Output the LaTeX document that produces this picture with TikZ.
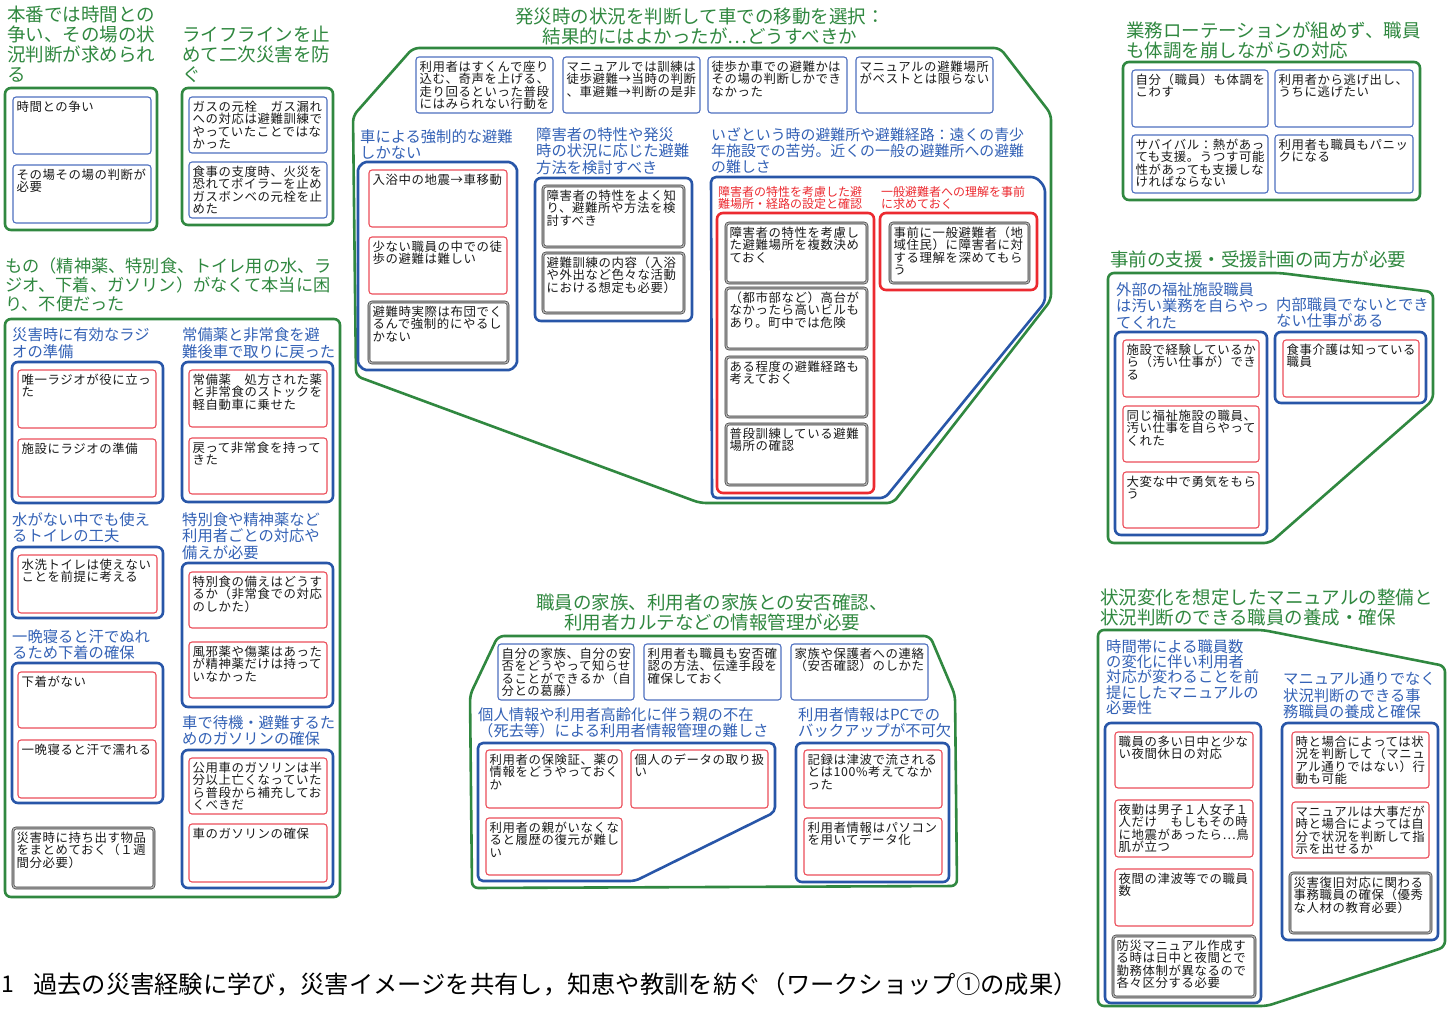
\documentclass[tikz,border=0pt]{standalone}
\usepackage{fontspec}
\setmainfont{Noto Sans CJK JP}
\newfontfamily\bfont[LetterSpace=5]{Noto Sans CJK JP}
\newfontfamily\hfont{Noto Sans CJK JP}
\definecolor{grn}{RGB}{48,136,64}
\definecolor{hbl}{RGB}{52,98,182}
\definecolor{bbl}{RGB}{40,86,168}
\definecolor{tbl}{RGB}{78,112,192}
\definecolor{rd}{RGB}{236,42,48}
\definecolor{trd}{RGB}{236,78,90}
\tikzset{
  bxbase/.style={rectangle, inner sep=0pt, outer sep=0pt},
  tbx/.style={bxbase, draw=tbl, line width=1.1pt, rounded corners=3pt},
  trx/.style={bxbase, draw=trd, line width=1.1pt, rounded corners=3pt},
  dbx/.style={bxbase, draw=black!80, line width=0.6pt, double=gray!60, double distance=1.4pt, rounded corners=3pt},
  bbx/.style={bxbase, draw=bbl, line width=2.6pt, rounded corners=6pt},
  rbx/.style={bxbase, draw=rd, line width=2.6pt, rounded corners=6pt},
  gbx/.style={bxbase, draw=grn, line width=2.6pt, rounded corners=6pt},
  gline/.style={draw=grn, line width=2.6pt, rounded corners=6pt, line join=round},
  bline/.style={draw=bbl, line width=2.6pt, rounded corners=5pt, line join=round},
  bt/.style={inner sep=0pt, outer sep=0pt, align=left, font=\bfont\fontsize{12.4}{12.3}\selectfont, text=black!90},
  gh/.style={inner sep=0pt, anchor=north west, align=left, font=\hfont\fontsize{18.5}{20}\selectfont, text=grn},
  gt/.style={inner sep=0pt, anchor=north, align=center, font=\hfont\fontsize{18.5}{19.5}\selectfont, text=grn},
  bh/.style={inner sep=0pt, anchor=north west, align=left, font=\hfont\fontsize{15.3}{16.5}\selectfont, text=hbl},
  rh/.style={inner sep=0pt, anchor=north west, align=left, font=\hfont\fontsize{12}{12.5}\selectfont, text=rd},
}
\newcommand\cbox[6]{\node[#1,anchor=north west,minimum width={#5-#3},minimum height={#6-#4}] (#2) at (#3,#4) {};}
\newcommand\bx[7]{\cbox{#1}{#2}{#3}{#4}{#5}{#6}\node[bt,anchor=north west] (#2t) at ([xshift=3.5pt,yshift=-4pt]#2.north west) {#7};}
\begin{document}
\begin{tikzpicture}[x=1pt,y=-1pt]
\fill[white] (0,0) rectangle (1448,1009);
\useasboundingbox (0,0) rectangle (1448,1009);

% ---------- group 1
\node[gh] (h1) at (7,6) {本番では時間との\\争い、その場の状\\況判断が求められ\\る};
\cbox{gbx}{g1}{5}{88}{157}{230}
\bx{tbx}{b11}{13}{97}{151}{154}{時間との争い}
\bx{tbx}{b12}{13}{165}{151}{223}{その場その場の判断が\\必要}

% ---------- group 2
\node[gh] (h2) at (182,26) {ライフラインを止\\めて二次災害を防\\ぐ};
\cbox{gbx}{g2}{182}{88}{333}{225}
\bx{tbx}{b21}{189}{97}{327}{153}{ガスの元栓　ガス漏れ\\への対応は避難訓練で\\やっていたことではな\\かった}
\bx{tbx}{b22}{189}{162}{327}{218}{食事の支度時、火災を\\恐れてボイラーを止め\\ガスボンベの元栓を止\\めた}

% ---------- group 3
\node[gh,font=\hfont\fontsize{17.2}{19}\selectfont] (h3) at (5,258) {もの（精神薬、特別食、トイレ用の水、ラ\\ジオ、下着、ガソリン）がなくて本当に困\\り、不便だった};
\cbox{gbx}{g3}{5}{319}{340}{897}
\node[bh] (h31) at (12,327.5) {災害時に有効なラジ\\オの準備};
\cbox{bbx}{c31}{12}{362}{163}{503}
\bx{trx}{b311}{18}{370}{156}{428}{唯一ラジオが役に立っ\\た}
\bx{trx}{b312}{18}{439}{156}{497}{施設にラジオの準備}
\node[bh] (h32) at (182,327.5) {常備薬と非常食を避\\難後車で取りに戻った};
\cbox{bbx}{c32}{182}{362}{333}{502}
\bx{trx}{b321}{189}{370}{327}{427}{常備薬　処方された薬\\と非常食のストックを\\軽自動車に乗せた}
\bx{trx}{b322}{189}{438}{327}{494}{戻って非常食を持って\\きた}
\node[bh] (h33) at (12,512) {水がない中でも使え\\るトイレの工夫};
\cbox{bbx}{c33}{12}{547}{163}{618}
\bx{trx}{b331}{18}{555}{157}{613}{水洗トイレは使えない\\ことを前提に考える}
\node[bh] (h34) at (12,629) {一晩寝ると汗でぬれ\\るため下着の確保};
\cbox{bbx}{c34}{12}{663}{163}{803}
\bx{trx}{b341}{18}{672}{156}{728}{下着がない}
\bx{trx}{b342}{18}{740}{156}{798}{一晩寝ると汗で濡れる}
\bx{dbx}{b35}{13}{828}{154}{888}{災害時に持ち出す物品\\をまとめておく（１週\\間分必要）}
\node[bh] (h36) at (182,512) {特別食や精神薬など\\利用者ごとの対応や\\備えが必要};
\cbox{bbx}{c36}{182}{563}{333}{707}
\bx{trx}{b361}{189}{572}{327}{628}{特別食の備えはどうす\\るか（非常食での対応\\のしかた）}
\bx{trx}{b362}{189}{642}{327}{698}{風邪薬や傷薬はあった\\が精神薬だけは持って\\いなかった}
\node[bh] (h37) at (182,715) {車で待機・避難するた\\めのガソリンの確保};
\cbox{bbx}{c37}{182}{750}{333}{888}
\bx{trx}{b371}{189}{758}{327}{814}{公用車のガソリンは半\\分以上亡くなっていた\\ら普段から補充してお\\くべきだ}
\bx{trx}{b372}{189}{824}{327}{882}{車のガソリンの確保}

% ---------- group 4 (top centre)
\node[gt] (h4) at (700,8) {発災時の状況を判断して車での移動を選択：\\結果的にはよかったが⋯どうすべきか};
\draw[gline] (413,48) -- (1000,48) -- (1051,114) -- (1051,300) -- (893,503) -- (700,503) -- (356,376) -- (353,116) -- cycle;
\bx{tbx}{b4a}{416}{57}{553}{113}{利用者はすくんで座り\\込む、奇声を上げる、\\走り回るといった普段\\にはみられない行動を}
\bx{tbx}{b4b}{563}{57}{700}{113}{マニュアルでは訓練は\\徒歩避難→当時の判断\\、車避難→判断の是非}
\bx{tbx}{b4c}{708}{57}{847}{113}{徒歩か車での避難かは\\その場の判断しかでき\\なかった}
\bx{tbx}{b4d}{856}{57}{993}{113}{マニュアルの避難場所\\がベストとは限らない}
\node[bh] (h41) at (360,129) {車による強制的な避難\\しかない};
\draw[bline,rounded corners=2pt] (364,162) -- (511,162) -- (517,168) -- (517,364) -- (511,370) -- (364,370) -- (358,364) -- (358,168) -- cycle;
\bx{trx}{b411}{369}{170}{507}{227}{入浴中の地震→車移動}
\bx{trx}{b412}{369}{237}{507}{294}{少ない職員の中での徒\\歩の避難は難しい}
\bx{dbx}{b413}{369}{302}{508}{363}{避難時実際は布団でく\\るんで強制的にやるし\\かない}
\node[bh] (h42) at (536,127) {障害者の特性や発災\\時の状況に応じた避難\\方法を検討すべき};
\cbox{bbx}{c42}{535}{178}{692}{321}
\bx{dbx}{b421}{543}{186}{684}{247}{障害者の特性をよく知\\り、避難所や方法を検\\討すべき}
\bx{dbx}{b422}{543}{253}{684}{313}{避難訓練の内容（入浴\\や外出など色々な活動\\における想定も必要）}
\node[bh,font=\hfont\fontsize{14.9}{16}\selectfont] (h43) at (711,127.5) {いざという時の避難所や避難経路：遠くの青少\\年施設での苦労。近くの一般の避難所への避難\\の難しさ};
\draw[bline] (711,177) -- (1036,177) -- (1045,187) -- (1045,302) -- (885,498) -- (712,498) -- cycle;
\node[rh] (h431) at (718,186) {障害者の特性を考慮した避\\難場所・経路の設定と確認};
\cbox{rbx}{c431}{717}{213}{874}{493}
\bx{dbx}{b4311}{726}{223}{867}{283}{障害者の特性を考慮し\\た避難場所を複数決め\\ておく}
\bx{dbx}{b4312}{726}{288}{867}{349}{（都市部など）高台が\\なかったら高いビルも\\あり。町中では危険}
\bx{dbx}{b4313}{726}{357}{867}{417}{ある程度の避難経路も\\考えておく}
\bx{dbx}{b4314}{726}{424}{867}{485}{普段訓練している避難\\場所の確認}
\node[rh] (h432) at (881,186) {一般避難者への理解を事前\\に求めておく};
\cbox{rbx}{c432}{880}{213}{1037}{290}
\bx{dbx}{b4321}{890}{223}{1029}{283}{事前に一般避難者（地\\域住民）に障害者に対\\する理解を深めてもら\\う}

% ---------- group 5 (top right)
\node[gh] (h5) at (1126,22) {業務ローテーションが組めず、職員\\も体調を崩しながらの対応};
\cbox{gbx}{g5}{1123}{62}{1420}{200}
\bx{tbx}{b51}{1132}{70}{1268}{127}{自分（職員）も体調を\\こわす}
\bx{tbx}{b52}{1275}{70}{1413}{127}{利用者から逃げ出し、\\うちに逃げたい}
\bx{tbx}{b53}{1132}{135}{1268}{193}{サバイバル：熱があっ\\ても支援。うつす可能\\性があっても支援しな\\ければならない}
\bx{tbx}{b54}{1275}{135}{1413}{193}{利用者も職員もパニッ\\クになる}

% ---------- group 6 (right middle)
\node[gh] (h6) at (1110,251) {事前の支援・受援計画の両方が必要};
\draw[gline] (1108,273) -- (1280,273) -- (1433,292) -- (1433,400) -- (1270,543) -- (1108,543) -- cycle;
\node[bh] (h61) at (1116,282) {外部の福祉施設職員\\は汚い業務を自らやっ\\てくれた};
\cbox{bbx}{c61}{1115}{332}{1267}{535}
\bx{trx}{b611}{1123}{340}{1259}{397}{施設で経験しているか\\ら（汚い仕事が）でき\\る}
\bx{trx}{b612}{1123}{406}{1259}{462}{同じ福祉施設の職員、\\汚い仕事を自らやって\\くれた}
\bx{trx}{b613}{1123}{472}{1259}{528}{大変な中で勇気をもら\\う}
\node[bh] (h62) at (1276,297) {内部職員でないとでき\\ない仕事がある};
\cbox{bbx}{c62}{1275}{332}{1426}{403}
\bx{trx}{b621}{1283}{340}{1419}{397}{食事介護は知っている\\職員}

% ---------- group 7 (right bottom)
\node[gh] (h7) at (1100,589) {状況変化を想定したマニュアルの整備と\\状況判断のできる職員の養成・確保};
\draw[gline] (1098,630) -- (1263,630) -- (1445,666) -- (1445,947) -- (1267,1006) -- (1098,1006) -- cycle;
\node[bh,font=\hfont\fontsize{15.3}{15.4}\selectfont] (h71) at (1106,639) {時間帯による職員数\\の変化に伴い利用者\\対応が変わることを前\\提にしたマニュアルの\\必要性};
\cbox{bbx}{c71}{1105}{723}{1261}{1003}
\bx{trx}{b711}{1115}{732}{1253}{788}{職員の多い日中と少な\\い夜間休日の対応}
\bx{trx}{b712}{1115}{800}{1253}{857}{夜勤は男子１人女子１\\人だけ　もしもその時\\に地震があったら⋯鳥\\肌が立つ}
\bx{trx}{b713}{1115}{869}{1253}{926}{夜間の津波等での職員\\数}
\bx{dbx}{b714}{1113}{936}{1255}{997}{防災マニュアル作成す\\る時は日中と夜間とで\\勤務体制が異なるので\\各々区分する必要}
\node[bh] (h72) at (1283,672) {マニュアル通りでなく\\状況判断のできる事\\務職員の養成と確保};
\cbox{bbx}{c72}{1282}{723}{1438}{940}
\bx{trx}{b721}{1292}{732}{1429}{788}{時と場合によっては状\\況を判断して（マニュ\\アル通りではない）行\\動も可能}
\bx{trx}{b722}{1292}{802}{1429}{858}{マニュアルは大事だが\\時と場合によっては自\\分で状況を判断して指\\示を出せるか}
\bx{dbx}{b723}{1290}{873}{1431}{933}{災害復旧対応に関わる\\事務職員の確保（優秀\\な人材の教育必要）}

% ---------- group 8 (bottom centre)
\node[gt] (h8) at (712,594) {職員の家族、利用者の家族との安否確認、\\利用者カルテなどの情報管理が必要};
\draw[gline] (498,636) -- (930,636) -- (955,695) -- (957,886) -- (472,888) -- (470,695) -- cycle;
\bx{tbx}{b81}{498}{644}{634}{700}{自分の家族、自分の安\\否をどうやって知らせ\\ることができるか（自\\分との葛藤）}
\bx{tbx}{b82}{644}{644}{781}{700}{利用者も職員も安否確\\認の方法、伝達手段を\\確保しておく}
\bx{tbx}{b83}{791}{644}{928}{700}{家族や保護者への連絡\\（安否確認）のしかた}
\node[bh] (h81) at (478,707) {個人情報や利用者高齢化に伴う親の不在\\（死去等）による利用者情報管理の難しさ};
\draw[bline] (478,743) -- (775,743) -- (775,812) -- (635,881) -- (478,881) -- cycle;
\bx{trx}{b811}{486}{750}{622}{808}{利用者の保険証、薬の\\情報をどうやっておく\\か}
\bx{trx}{b812}{631}{750}{768}{808}{個人のデータの取り扱\\い}
\bx{trx}{b813}{486}{818}{622}{875}{利用者の親がいなくな\\ると履歴の復元が難し\\い}
\node[bh] (h82) at (798,707) {利用者情報はPCでの\\バックアップが不可欠};
\cbox{bbx}{c82}{796}{743}{949}{882}
\bx{trx}{b821}{804}{750}{942}{808}{記録は津波で流される\\とは100\%考えてなか\\った}
\bx{trx}{b822}{804}{818}{942}{875}{利用者情報はパソコン\\を用いてデータ化}

% ---------- caption
\node[inner sep=0pt, anchor=west, font=\hfont\fontsize{23}{24}\selectfont] (capn) at (1,984) {1};
\node[inner sep=0pt, anchor=west, font=\hfont\fontsize{24.3}{25}\selectfont] (cap) at (33,984) {過去の災害経験に学び，災害イメージを共有し，知恵や教訓を紡ぐ（ワークショップ①の成果）};
\end{tikzpicture}
\end{document}
